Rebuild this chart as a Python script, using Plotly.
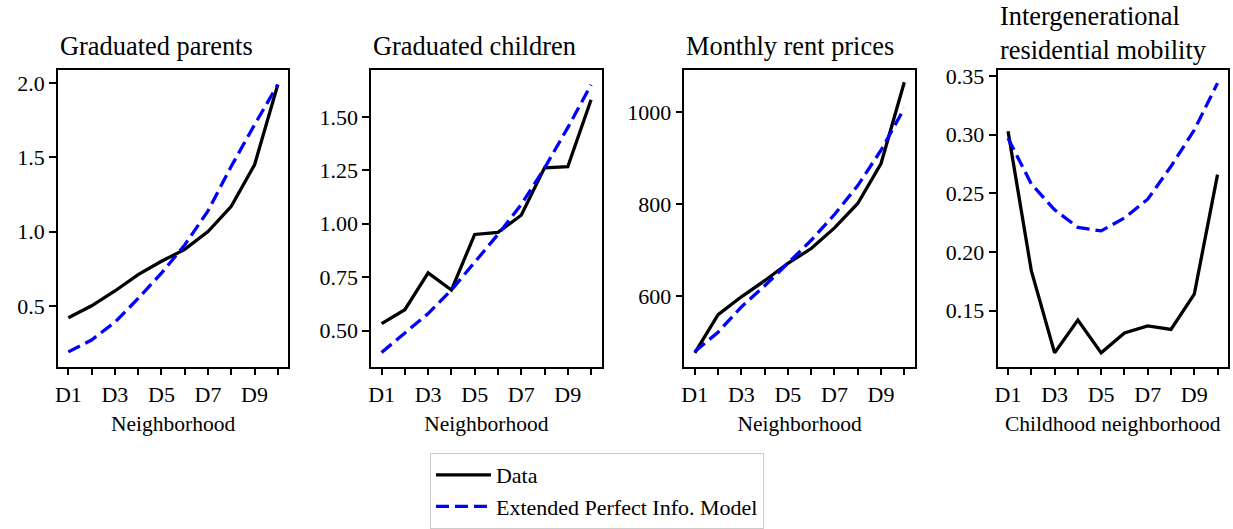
import plotly.graph_objects as go

categories = ["D1", "D2", "D3", "D4", "D5", "D6", "D7", "D8", "D9", "D10"]
tick_labels = ["D1", "", "D3", "", "D5", "", "D7", "", "D9", ""]

titles = ["Graduated parents", "Graduated children", "Monthly rent prices",
          "Intergenerational<br>residential mobility"]
xlabels = ["Neighborhood", "Neighborhood", "Neighborhood", "Childhood neighborhood"]

parents_data = [0.42, 0.50, 0.60, 0.71, 0.80, 0.88, 1.00, 1.17, 1.45, 1.99]
parents_model = [0.19, 0.27, 0.39, 0.55, 0.72, 0.91, 1.14, 1.44, 1.72, 1.99]

children_data = [0.533, 0.598, 0.77, 0.69, 0.95, 0.96, 1.04, 1.262, 1.267, 1.58]
children_model = [0.398, 0.49, 0.58, 0.69, 0.82, 0.95, 1.09, 1.26, 1.45, 1.65]

rent_data = [476, 559, 598, 633, 671, 703, 748, 801, 888, 1065]
rent_model = [479, 521, 576, 622, 671, 721, 777, 840, 917, 1008]

mobility_data = [0.303, 0.184, 0.114, 0.142, 0.114, 0.131, 0.137, 0.134, 0.164, 0.266]
mobility_model = [0.297, 0.258, 0.236, 0.221, 0.218, 0.229, 0.245, 0.273, 0.304, 0.344]

panels = [
    (parents_data, parents_model, [0.091, 2.091], [0.5, 1.0, 1.5, 2.0], ".1f"),
    (children_data, children_model, [0.332, 1.721], [0.5, 0.75, 1.0, 1.25, 1.5], ".2f"),
    (rent_data, rent_model, [446.2, 1092.3], [600, 800, 1000], "d"),
    (mobility_data, mobility_model, [0.1023, 0.3555], [0.15, 0.2, 0.25, 0.3, 0.35], ".2f"),
]

W, H = 1233, 529
box_x = [(55, 286), (369, 600), (683, 914), (997, 1228)]
box_y = (66, 374)
title_bottom = [59, 59, 59, 63]
FONT = "Liberation Serif, Times New Roman, serif"

fig = go.Figure()
layout = dict(
    width=W, height=H, margin=dict(l=0, r=0, t=0, b=0),
    paper_bgcolor="white", plot_bgcolor="white",
    font=dict(family=FONT, size=22, color="black"),
    annotations=[],
)

for i, (data, model, yr, ytv, yfmt) in enumerate(panels):
    n = "" if i == 0 else str(i + 1)
    xa, ya = "x" + n, "y" + n
    fig.add_trace(go.Scatter(x=categories, y=data, mode="lines", name="Data",
                             line=dict(color="black", width=3.3),
                             xaxis=xa, yaxis=ya, showlegend=(i == 0)))
    fig.add_trace(go.Scatter(x=categories, y=model, mode="lines",
                             name="Extended Perfect Info. Model",
                             line=dict(color="blue", width=3.3, dash="13px,6px"),
                             xaxis=xa, yaxis=ya, showlegend=(i == 0)))
    x0, x1 = box_x[i]
    layout["xaxis" + n] = dict(
        domain=[x0 / W, x1 / W], anchor=ya, type="category",
        range=[-0.45, 9.45], tickmode="array", tickvals=categories, ticktext=tick_labels,
        ticks="outside", ticklen=7, tickwidth=1.5, tickcolor="black",
        showline=True, linecolor="black", linewidth=1.6, mirror=True,
        showgrid=False, zeroline=False, tickfont=dict(size=22),
        title=dict(text=xlabels[i], font=dict(size=21.5), standoff=10),
    )
    layout["yaxis" + n] = dict(
        domain=[1 - box_y[1] / H, 1 - box_y[0] / H], anchor=xa,
        range=yr, tickmode="array", tickvals=ytv, tickformat=yfmt,
        ticks="outside", ticklen=7, tickwidth=1.5, tickcolor="black",
        showline=True, linecolor="black", linewidth=1.6, mirror=True,
        showgrid=False, zeroline=False, tickfont=dict(size=22),
    )
    layout["annotations"].append(dict(
        text=titles[i], xref="paper", yref="paper", x=x0 / W, y=1 - title_bottom[i] / H,
        xanchor="left", yanchor="bottom", align="left", showarrow=False,
        font=dict(size=26.4, family=FONT, color="black"),
    ))

layout["legend"] = dict(
    x=428 / W, y=1 - 464 / H, xanchor="left", yanchor="top",
    bordercolor="#cccccc", borderwidth=1, bgcolor="white",
    font=dict(size=22, family=FONT), itemwidth=55,
)
fig.update_layout(**layout)
fig.write_html("out.html", config={"displayModeBar": False},
               post_script="document.body.style.margin='0';document.body.style.padding='0';")
